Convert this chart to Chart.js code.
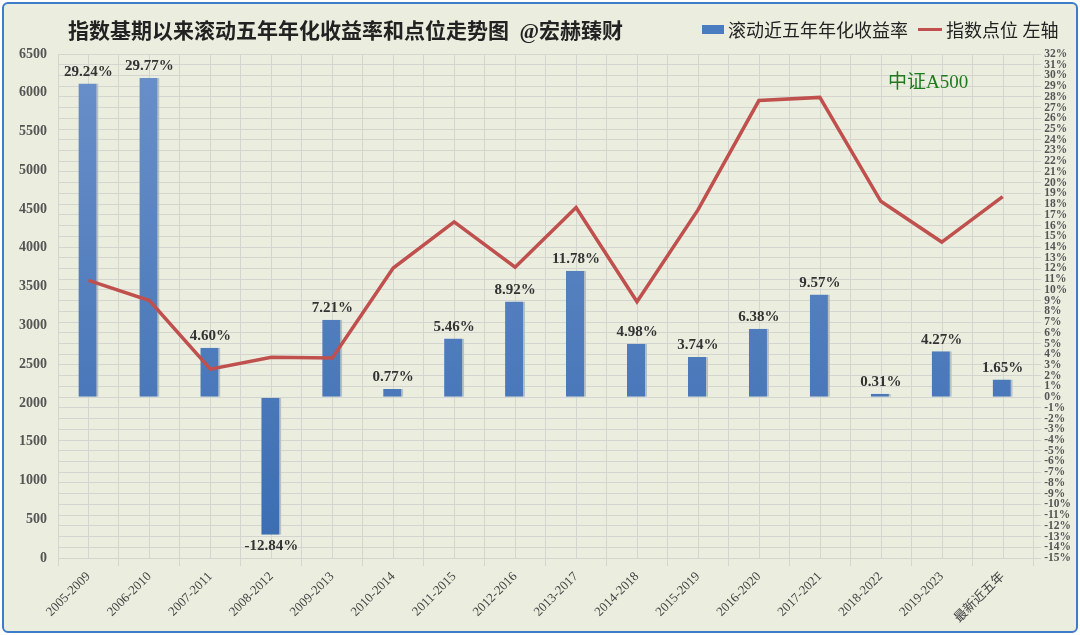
<!DOCTYPE html>
<html><head><meta charset="utf-8">
<script src="https://cdn.jsdelivr.net/npm/chart.js@4"></script>
<style>
html,body{margin:0;padding:0;background:#fff;}
#wrap{position:absolute;left:2px;top:2px;width:1072px;height:627px;border:2px solid #3d7cc9;border-radius:6px;background:#ebeedf;}
canvas{display:block;}
#ttl{position:absolute;left:68px;top:14px;font:bold 21px "Liberation Serif","Noto Sans CJK SC",serif;color:#222;}
#ann{position:absolute;left:888px;top:66px;font:19px "Liberation Serif","Noto Sans CJK SC",serif;color:#1d7a1d;}
#leg{position:absolute;left:702px;top:16px;font:18px "Liberation Serif","Noto Sans CJK SC",serif;color:#222;display:flex;align-items:center;}
</style></head><body>
<div id="wrap"><canvas id="c" width="1072" height="627"></canvas></div>
<div id="ttl">指数基期以来滚动五年年化收益率和点位走势图&nbsp;&nbsp;@宏赫臻财</div>
<div id="ann">中证A500</div>
<div id="leg"><span style="display:inline-block;width:22px;height:9px;background:#4a7cc0;margin-right:4px"></span>滚动近五年年化收益率<span style="display:inline-block;width:24px;height:3px;background:#c0504d;margin:0 4px 0 10px"></span>指数点位 左轴</div>
<script>
const categories=["2005-2009","2006-2010","2007-2011","2008-2012","2009-2013","2010-2014","2011-2015","2012-2016","2013-2017","2014-2018","2015-2019","2016-2020","2017-2021","2018-2022","2019-2023","最新近五年"];
const returns=[29.24,29.77,4.60,-12.84,7.21,0.77,5.46,8.92,11.78,4.98,3.74,6.38,9.57,0.31,4.27,1.65];
const indexLevel=[3580,3320,2435,2590,2580,3740,4335,3750,4520,3305,4490,5900,5940,4600,4075,4660];
const F='"Liberation Serif","Noto Sans CJK SC",serif';
const halfGrid={id:'hg',beforeDatasetsDraw(ch){const x=ch.scales.x,a=ch.chartArea,c=ch.ctx;c.save();c.strokeStyle='#d3d6d0';c.lineWidth=1;for(let i=0;i<categories.length;i++){const p=Math.round(x.getPixelForValue(i))+0.5;c.beginPath();c.moveTo(p,a.top);c.lineTo(p,a.bottom);c.stroke();}c.restore();}};
const labels={id:'lb',afterDatasetsDraw(ch){const m=ch.getDatasetMeta(1),c=ch.ctx;c.save();c.font='bold 15px '+F;c.fillStyle='#333';c.textAlign='center';m.data.forEach((b,i)=>{const v=returns[i];const t=v.toFixed(2)+'%';if(v>=0){c.textBaseline='bottom';c.fillText(t,b.x,b.y-4);}else{c.textBaseline='top';c.fillText(t,b.x,b.y+4);}});c.restore();}};
new Chart(document.getElementById('c'),{
 data:{labels:categories,datasets:[
  {type:'line',label:'指数点位 左轴',data:indexLevel,yAxisID:'y',borderColor:'#c0504d',borderWidth:3.5,pointRadius:0,tension:0,order:0},
  {type:'bar',label:'滚动近五年年化收益率',data:returns,yAxisID:'y1',barPercentage:0.33,categoryPercentage:1,order:1,
   backgroundColor:(ctx)=>{const ch=ctx.chart,a=ch.chartArea;if(!a)return '#4a7cc0';const g=ch.ctx.createLinearGradient(0,a.top,0,a.bottom);g.addColorStop(0,'#6a90c9');g.addColorStop(1,'#3a6cb2');return g;},
   borderColor:'#b9c0c0',borderWidth:{right:2,bottom:0,top:0,left:0}}
 ]},
 options:{responsive:false,animation:false,
  layout:{padding:{left:12,right:2,top:50,bottom:2}},
  plugins:{legend:{display:false},tooltip:{enabled:false}},
  scales:{
   x:{grid:{color:'#d3d6d0',offset:true},border:{color:'#d3d6d0'},ticks:{font:{family:F,size:13},color:'#444',maxRotation:45,minRotation:45}},
   y:{position:'left',min:0,max:6500,grid:{display:false},border:{display:false},ticks:{stepSize:500,font:{family:F,size:14,weight:'bold'},color:'#555',callback:v=>String(v)}},
   y1:{position:'right',min:-15,max:32,grid:{color:'#d3d6d0'},border:{display:false},ticks:{stepSize:1,autoSkip:false,font:{family:F,size:11.5,weight:'bold'},color:'#555',callback:v=>v+'%'}}
  }},
 plugins:[halfGrid,labels]
});
</script></body></html>
